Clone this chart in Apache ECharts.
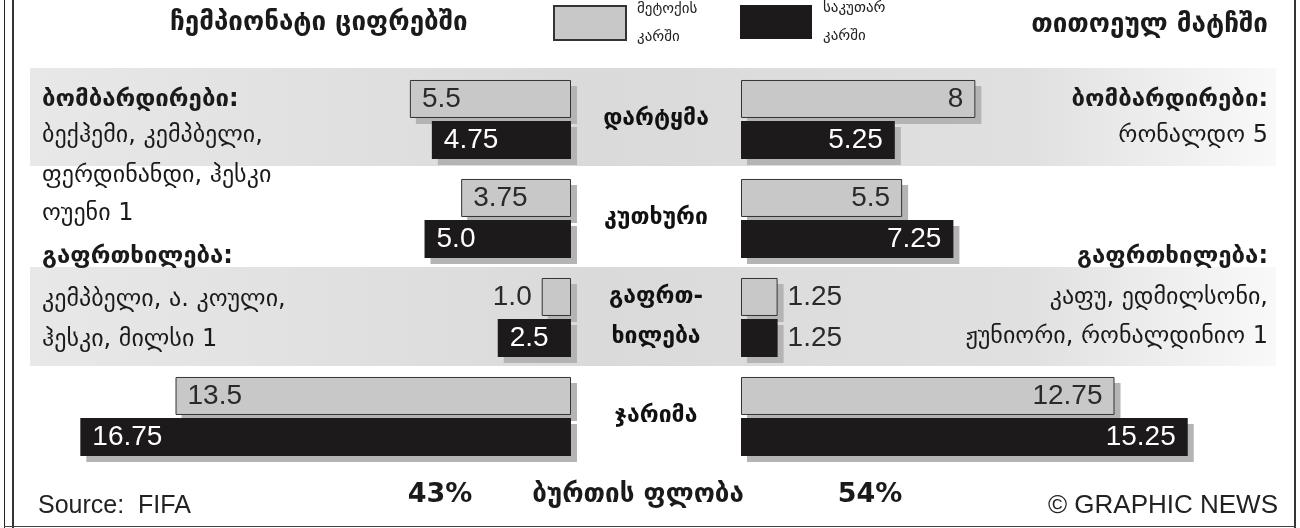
<!DOCTYPE html>
<html><head><meta charset="utf-8">
<script src="https://cdn.jsdelivr.net/npm/echarts@6/dist/echarts.min.js"></script>
<style>html,body{margin:0;padding:0;background:#fff}#c{width:1300px;height:528px}</style>
</head><body><div id="c"></div>
<script>
// ---- data ----
const categories = ['დარტყმა', 'კუთხური', 'გაფრთ-\nხილება', 'ჯარიმა'];
const seriesNames = ['მეტოქის კარში', 'საკუთარ კარში'];
const leftOpp = [5.5, 3.75, 1.0, 13.5];
const leftOwn = [4.75, 5.0, 2.5, 16.75];
const rightOpp = [8, 5.5, 1.25, 12.75];
const rightOwn = [5.25, 7.25, 1.25, 15.25];
const leftOppLabels = ['5.5', '3.75', '1.0', '13.5'];
const leftOwnLabels = ['4.75', '5.0', '2.5', '16.75'];
const rightOppLabels = ['8', '5.5', '1.25', '12.75'];
const rightOwnLabels = ['5.25', '7.25', '1.25', '15.25'];
const titleLeft = 'ჩემპიონატი ციფრებში';
const titleRight = 'თითოეულ მატჩში';
const scorersHead = 'ბომბარდირები:';
const warningsHead = 'გაფრთხილება:';
const leftScorers = ['ბექჰემი, კემპბელი,', 'ფერდინანდი, ჰესკი', 'ოუენი 1'];
const rightScorers = ['რონალდო 5'];
const leftWarned = ['კემპბელი, ა. კოული,', 'ჰესკი, მილსი 1'];
const rightWarned = ['კაფუ, ედმილსონი,', 'ჟუნიორი, რონალდინიო 1'];
const possessionLabel = 'ბურთის ფლობა';
const possessionLeft = '43%';
const possessionRight = '54%';
const sourceText = 'Source:  FIFA';
const creditText = '© GRAPHIC NEWS';

// ---- styles ----
const GEO = '"DejaVu Sans", sans-serif';
const NUM = '"Liberation Sans", Arial, sans-serif';
const GREY = '#c8c8c8';
const BLACK = '#1c1a1a';
const SHADOW = '#b4b4b4';

function mkSeries(name, idx, values, labels, own, side) {
  return {
    type: 'bar', name: name, xAxisIndex: idx, yAxisIndex: idx, z: 3,
    barWidth: 38, barGap: '8%',
    itemStyle: {
      color: own ? BLACK : GREY,
      borderColor: own ? BLACK : '#333',
      borderWidth: own ? 0 : 1
    },
    data: values.map((v, i) => {
      const outside = v < 2;
      let pos;
      if (side === 'L') pos = outside ? 'left' : 'insideLeft';
      else pos = outside ? 'right' : 'insideRight';
      return {
        value: v,
        label: {
          show: true, position: pos, distance: outside ? 10 : 12,
          formatter: labels[i],
          fontFamily: NUM, fontSize: 28,
          color: (own && !outside) ? '#fff' : '#2a2a2a'
        }
      };
    })
  };
}
// drop shadow: same bars drawn on a grid shifted by a few pixels
function mkShadow(key, idx, values) {
  return {
    type: 'bar', name: 'shadow-' + key, xAxisIndex: idx, yAxisIndex: idx, z: 1,
    silent: true, barWidth: 38, barGap: '8%',
    itemStyle: { color: SHADOW },
    label: { show: false },
    data: values
  };
}

function txt(text, x, y, opts) {
  return {
    type: 'text', z: 5,
    style: Object.assign({
      text: text, x: x, y: y, fill: '#1a1a1a',
      font: '24px ' + GEO, textAlign: 'left', textVerticalAlign: 'middle'
    }, opts || {})
  };
}

const bandFill = {
  type: 'linear', x: 0, y: 0, x2: 1, y2: 0,
  colorStops: [
    { offset: 0, color: '#e8e8e8' },
    { offset: 0.45, color: '#dadada' },
    { offset: 0.8, color: '#e0e0e0' },
    { offset: 1, color: '#f9f9f9' }
  ]
};

const HB = 'bold 24px ' + GEO;
const graphics = [
  { type: 'rect', z: -10, shape: { x: 30, y: 68, width: 1246, height: 98 }, style: { fill: bandFill } },
  { type: 'rect', z: -10, shape: { x: 30, y: 267, width: 1246, height: 99 }, style: { fill: bandFill } },
  // frame
  { type: 'line', shape: { x1: 4.5, y1: 0, x2: 4.5, y2: 528 }, style: { stroke: '#222', lineWidth: 1 } },
  { type: 'line', shape: { x1: 13, y1: 0, x2: 13, y2: 528 }, style: { stroke: '#333', lineWidth: 2 } },
  { type: 'line', shape: { x1: 1295, y1: 0, x2: 1295, y2: 528 }, style: { stroke: '#333', lineWidth: 2 } },
  { type: 'line', shape: { x1: 4, y1: 526.5, x2: 1296, y2: 526.5 }, style: { stroke: '#444', lineWidth: 1 } },
  // titles
  txt(titleLeft, 170, 23, { font: 'bold 26px ' + GEO }),
  txt(titleRight, 1268, 25, { font: 'bold 26px ' + GEO, textAlign: 'right' }),
  // left side notes
  txt(scorersHead, 42, 100, { font: HB }),
  txt(leftScorers[0], 42, 136),
  txt(leftScorers[1], 42, 176),
  txt(leftScorers[2], 42, 214),
  txt(warningsHead, 42, 257, { font: HB }),
  txt(leftWarned[0], 42, 300),
  txt(leftWarned[1], 42, 340),
  // right side notes
  txt(scorersHead, 1268, 100, { font: HB, textAlign: 'right' }),
  txt(rightScorers[0], 1268, 136, { textAlign: 'right' }),
  txt(warningsHead, 1268, 257, { font: HB, textAlign: 'right' }),
  txt(rightWarned[0], 1268, 298, { textAlign: 'right' }),
  txt(rightWarned[1], 1268, 337, { textAlign: 'right' }),
  // footer
  txt(sourceText, 38, 506, { font: '25px ' + NUM, fill: '#222' }),
  txt(possessionLeft, 440, 495, { font: 'bold 27px ' + GEO, textAlign: 'center' }),
  txt(possessionLabel, 638, 495, { font: 'bold 26px ' + GEO, textAlign: 'center' }),
  txt(possessionRight, 870, 495, { font: 'bold 27px ' + GEO, textAlign: 'center' }),
  txt(creditText, 1278, 506, { font: '26px ' + NUM, fill: '#222', textAlign: 'right' })
];

const legendCommon = {
  icon: 'rect', itemWidth: 72, itemHeight: 34, selectedMode: false, padding: 0,
  formatter: n => n.replace(' ', '\n'),
  textStyle: { fontFamily: GEO, fontSize: 15, lineHeight: 28, color: '#222', padding: [0, 0, 0, 6] }
};

const option = {
  animation: false,
  backgroundColor: '#fff',
  legend: [
    Object.assign({ data: [seriesNames[0]], left: 553, top: -5 }, legendCommon),
    Object.assign({ data: [seriesNames[1]], left: 740, top: -6 }, legendCommon)
  ],
  grid: [
    { left: 73, width: 498, top: 70, height: 396 },
    { left: 741, width: 498, top: 70, height: 396 },
    { left: 79, width: 498, top: 76, height: 396 },
    { left: 747, width: 498, top: 76, height: 396 }
  ],
  xAxis: [
    { gridIndex: 0, type: 'value', min: 0, max: 17, inverse: true, show: false },
    { gridIndex: 1, type: 'value', min: 0, max: 17, show: false },
    { gridIndex: 2, type: 'value', min: 0, max: 17, inverse: true, show: false },
    { gridIndex: 3, type: 'value', min: 0, max: 17, show: false }
  ],
  yAxis: [
    {
      gridIndex: 0, type: 'category', data: categories, inverse: true, position: 'right',
      axisLine: { show: false }, axisTick: { show: false },
      axisLabel: { margin: 85, align: 'center', fontFamily: GEO, fontWeight: 'bold', fontSize: 23, color: '#111', lineHeight: 40 }
    },
    { gridIndex: 1, type: 'category', data: categories, inverse: true, show: false },
    { gridIndex: 2, type: 'category', data: categories, inverse: true, show: false },
    { gridIndex: 3, type: 'category', data: categories, inverse: true, show: false }
  ],
  graphic: graphics,
  series: [
    mkShadow('lo', 2, leftOpp),
    mkShadow('lw', 2, leftOwn),
    mkShadow('ro', 3, rightOpp),
    mkShadow('rw', 3, rightOwn),
    mkSeries(seriesNames[0], 0, leftOpp, leftOppLabels, false, 'L'),
    mkSeries(seriesNames[1], 0, leftOwn, leftOwnLabels, true, 'L'),
    mkSeries(seriesNames[0], 1, rightOpp, rightOppLabels, false, 'R'),
    mkSeries(seriesNames[1], 1, rightOwn, rightOwnLabels, true, 'R')
  ]
};

const chart = echarts.init(document.getElementById('c'), null, { renderer: 'canvas' });
chart.setOption(option);
</script>
</body></html>
